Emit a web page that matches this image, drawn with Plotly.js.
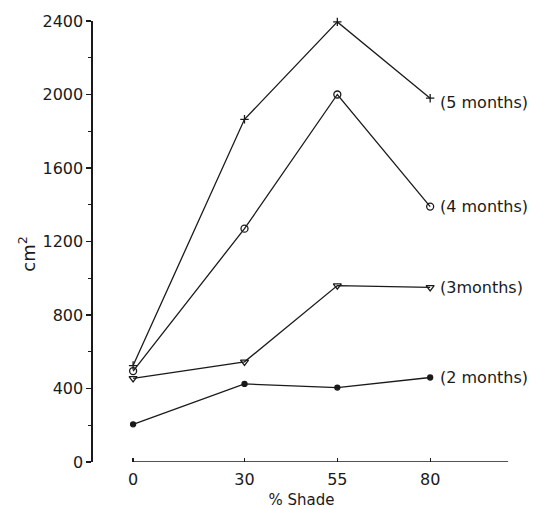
<!DOCTYPE html>
<html>
<head>
<meta charset="utf-8">
<script src="https://cdn.plot.ly/plotly-3.0.1.min.js"></script>
<style>html,body{margin:0;padding:0;background:#fff;}#chart{width:536px;height:509px;}</style>
</head>
<body>
<div id="chart"></div>
<script>
var shade = [0, 30, 55, 80];
var months5 = [525, 1865, 2395, 1980];
var months4 = [495, 1270, 2000, 1390];
var months3 = [455, 545, 960, 950];
var months2 = [205, 425, 405, 460];
var seriesLabels = ['(5 months)', '(4 months)', '(3months)', '(2 months)'];
var yTicks = [0, 400, 800, 1200, 1600, 2000, 2400];
var xTicks = [0, 30, 55, 80];
var yTitle = 'cm<sup>2</sup>';

var ink = '#1a1a1a';
var fontFam = 'DejaVu Sans, Liberation Sans, Arial, sans-serif';

function series(y, sym, size) {
  return {
    x: shade, y: y, type: 'scatter', mode: 'lines+markers',
    line: {color: ink, width: 1.3},
    marker: {symbol: sym, size: size, color: ink, line: {color: ink, width: 1.3}},
    cliponaxis: false, showlegend: false, hoverinfo: 'skip'
  };
}

var data = [
  series(months5, 'cross-thin', 6),
  series(months4, 'circle-open', 7),
  series(months3, 'triangle-down-open', 7),
  series(months2, 'circle', 5)
];

var allSeries = [months5, months4, months3, months2];
var annotations = allSeries.map(function (s, i) {
  return {
    x: shade[shade.length - 1], y: s[s.length - 1], xref: 'x', yref: 'y',
    text: seriesLabels[i], showarrow: false, xanchor: 'left', yanchor: 'middle',
    xshift: 8, yshift: (i === 0 ? -4 : 0), font: {family: fontFam, size: 16, color: ink}
  };
});
annotations.push({
  x: 0, xref: 'paper', xshift: -66, y: 0.47, yref: 'paper',
  text: yTitle, textangle: -90, showarrow: false,
  xanchor: 'center', yanchor: 'middle',
  font: {family: fontFam, size: 18, color: ink}
});

var layout = {
  width: 536, height: 509,
  margin: {l: 93, r: 26, t: 21, b: 47},
  paper_bgcolor: '#fff', plot_bgcolor: '#fff',
  font: {family: fontFam, color: ink},
  xaxis: {
    range: [-10.8, 101.5], tickvals: xTicks, ticktext: xTicks.map(String),
    ticks: 'inside', ticklen: 4, tickwidth: 1.3, tickcolor: ink,
    ticklabelstandoff: 6,
    showline: false, showgrid: false, zeroline: false,
    tickfont: {family: fontFam, size: 16, color: ink},
    title: {text: '% Shade', font: {family: fontFam, size: 15, color: ink}, standoff: 6}
  },
  yaxis: {
    range: [0, 2400], tickvals: yTicks, ticktext: yTicks.map(String),
    ticks: 'outside', ticklen: 5, tickwidth: 1.3, tickcolor: ink,
    minor: {dtick: 200, ticks: 'outside', ticklen: 3, tickwidth: 1.2, tickcolor: ink, showgrid: false},
    showline: true, linecolor: ink, linewidth: 1.6,
    showgrid: false, zeroline: false,
    tickfont: {family: fontFam, size: 16, color: ink}
  },
  shapes: [{
    type: 'line', xref: 'x', yref: 'y', x0: 0, x1: 101, y0: 0, y1: 0,
    line: {color: ink, width: 1.6}
  }],
  annotations: annotations
};

Plotly.newPlot('chart', data, layout, {displayModeBar: false, staticPlot: true});
</script>
</body>
</html>
